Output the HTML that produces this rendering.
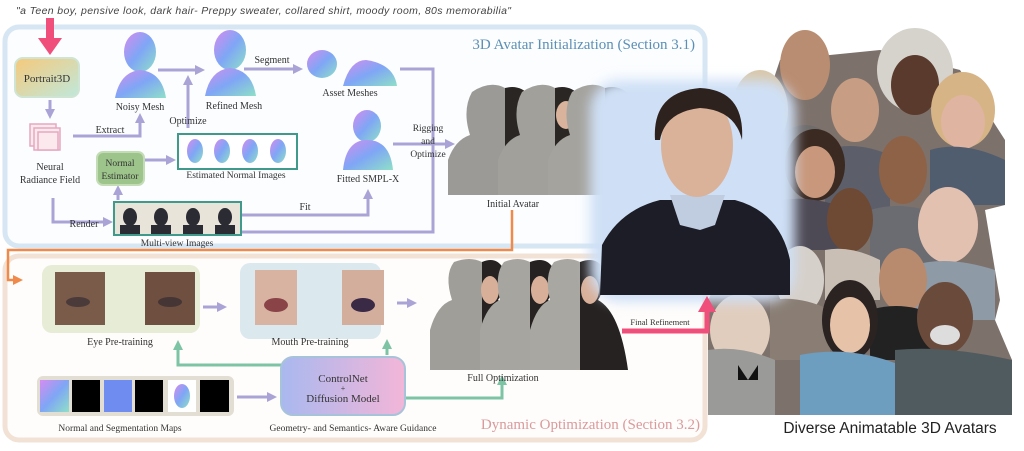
<!DOCTYPE html>
<html><head><meta charset="utf-8"><style>
html,body{margin:0;padding:0;background:#fff;}
body{width:1024px;height:446px;overflow:hidden;font-family:"Liberation Serif",serif;}
</style></head><body>
<svg width="1024" height="446" viewBox="0 0 1024 446" xmlns="http://www.w3.org/2000/svg" font-family="Liberation Serif, serif">
<defs>
<linearGradient id="p3" x1="0" y1="0" x2="1" y2="1"><stop offset="0" stop-color="#f6c97a"/><stop offset="1" stop-color="#bfe8dc"/></linearGradient>
<linearGradient id="cn" x1="0" y1="0" x2="1" y2="0"><stop offset="0" stop-color="#a9b8ef"/><stop offset="1" stop-color="#f3b6d8"/></linearGradient>
<linearGradient id="nm" x1="0" y1="0" x2="1" y2="1"><stop offset="0" stop-color="#d68cf0"/><stop offset=".5" stop-color="#7fa6f5"/><stop offset="1" stop-color="#8fe0c8"/></linearGradient>
<filter id="gl"><feGaussianBlur stdDeviation="6"/></filter>
<marker id="ap" markerUnits="userSpaceOnUse" markerWidth="10" markerHeight="10" refX="5" refY="5" orient="auto"><path d="M0,0 L10,5 L0,10 z" fill="#a9a3d6"/></marker>
<marker id="ag" markerUnits="userSpaceOnUse" markerWidth="10" markerHeight="10" refX="5" refY="5" orient="auto"><path d="M0,0 L10,5 L0,10 z" fill="#7cc4a4"/></marker>
<marker id="ao" markerUnits="userSpaceOnUse" markerWidth="10" markerHeight="10" refX="5" refY="5" orient="auto"><path d="M0,0 L10,5 L0,10 z" fill="#f08a4b"/></marker>
</defs>
<text x="16" y="14" font-size="10.5" font-style="italic" fill="#444" font-family="Liberation Sans, sans-serif" textLength="495">"a Teen boy, pensive look, dark hair- Preppy sweater, collared shirt, moody room, 80s memorabilia"</text>
<!-- boxes -->
<rect x="5" y="27" width="700" height="219" rx="14" fill="#fbfdff" stroke="#d6e6f2" stroke-width="5"/>
<rect x="5" y="256" width="700" height="184" rx="14" fill="#fffdfb" stroke="#f2e2d6" stroke-width="5"/>
<text x="695" y="49" font-size="15" fill="#5c8fb4" text-anchor="end">3D Avatar Initialization (Section 3.1)</text>
<text x="700" y="429" font-size="15" fill="#d99a9c" text-anchor="end">Dynamic Optimization (Section 3.2)</text>
<!-- pink arrow top -->
<rect x="46" y="18" width="8" height="22" fill="#ef4f7a"/><path d="M38,38 L62,38 L50,55 z" fill="#ef4f7a"/>
<rect x="15" y="58" width="64" height="39" rx="8" fill="url(#p3)" stroke="#cfe4d2" stroke-width="2"/>
<text x="47" y="82" font-size="11" text-anchor="middle" fill="#333">Portrait3D</text>
<g stroke="#a9a3d6" stroke-width="3" fill="none">
<path d="M50,100 V114" marker-end="url(#ap)"/>
<path d="M73,136 H140 V118" marker-end="url(#ap)"/>
<path d="M158,70 H200" marker-end="url(#ap)"/>
<path d="M188,128 V80" marker-end="url(#ap)"/>
<path d="M244,69 H298" marker-end="url(#ap)"/>
<path d="M400,69 H433 V232 H240"/>
<path d="M145,160 H171" marker-end="url(#ap)"/>
<path d="M118,200 V190" marker-end="url(#ap)"/>
<path d="M53,198 V222 H108" marker-end="url(#ap)"/>
<path d="M240,215 H368 V194" marker-end="url(#ap)"/>
<path d="M393,144 H450" marker-end="url(#ap)"/>
<path d="M85,310 H100" marker-end="url(#ap)"/>
<path d="M203,307 H222" marker-end="url(#ap)"/>
<path d="M297,303 H315" marker-end="url(#ap)"/>
<path d="M397,303 H412" marker-end="url(#ap)"/>
<path d="M237,397 H272" marker-end="url(#ap)"/>
</g>
<g stroke="#7cc4a4" stroke-width="3" fill="none">
<path d="M283,365 H178 V345" marker-end="url(#ag)"/>
<path d="M387,355 V344" marker-end="url(#ag)"/>
<path d="M405,398 H502 V380" marker-end="url(#ag)"/>
</g>
<path d="M512,210 V250 H8 V280 H18" stroke="#f08a4b" stroke-width="2.5" fill="none" marker-end="url(#ao)"/>
<!-- nerf icon -->
<g stroke="#e7a7c1" fill="#fbe9ee" stroke-width="1.5"><rect x="30" y="124" width="26" height="22"/><rect x="34" y="128" width="26" height="22"/><rect x="38" y="132" width="20" height="18"/></g>
<text x="50" y="170" font-size="10" text-anchor="middle" fill="#333">Neural</text>
<text x="50" y="183" font-size="10" text-anchor="middle" fill="#333">Radiance Field</text>
<text x="110" y="133" font-size="10" text-anchor="middle" fill="#333">Extract</text>
<text x="84" y="227" font-size="10" text-anchor="middle" fill="#333">Render</text>
<!-- meshes -->
<ellipse cx="140" cy="52" rx="16" ry="20" fill="url(#nm)"/><path d="M115,98 Q120,72 140,70 Q162,72 166,98 z" fill="url(#nm)"/>
<text x="140" y="110" font-size="10" text-anchor="middle" fill="#333">Noisy Mesh</text>
<ellipse cx="230" cy="50" rx="16" ry="20" fill="url(#nm)"/><path d="M205,96 Q210,70 230,68 Q252,70 256,96 z" fill="url(#nm)"/>
<text x="234" y="109" font-size="10" text-anchor="middle" fill="#333">Refined Mesh</text>
<text x="188" y="124" font-size="10" text-anchor="middle" fill="#333">Optimize</text>
<text x="272" y="63" font-size="10" text-anchor="middle" fill="#333">Segment</text>
<ellipse cx="322" cy="64" rx="15" ry="14" fill="url(#nm)"/><path d="M343,86 Q350,60 366,60 Q394,64 397,86 z" fill="url(#nm)"/>
<text x="350" y="96" font-size="10" text-anchor="middle" fill="#333">Asset Meshes</text>
<ellipse cx="367" cy="126" rx="14" ry="16" fill="url(#nm)"/><path d="M343,170 Q346,140 367,140 Q390,140 393,170 z" fill="url(#nm)"/>
<text x="368" y="182" font-size="10" text-anchor="middle" fill="#333">Fitted SMPL-X</text>
<text x="428" y="131" font-size="9.5" text-anchor="middle" fill="#333">Rigging</text>
<text x="428" y="144" font-size="9.5" text-anchor="middle" fill="#333">and</text>
<text x="428" y="157" font-size="9.5" text-anchor="middle" fill="#333">Optimize</text>
<!-- normal estimator -->
<rect x="97" y="152" width="47" height="33" rx="6" fill="#9dc48b" stroke="#c3dcb6" stroke-width="2"/>
<text x="120" y="166" font-size="9.5" text-anchor="middle" fill="#333">Normal</text>
<text x="120" y="179" font-size="9.5" text-anchor="middle" fill="#333">Estimator</text>
<rect x="178" y="134" width="119" height="35" fill="#fff" stroke="#3f9a8c" stroke-width="2"/>
<g fill="url(#nm)"><ellipse cx="195" cy="151" rx="8" ry="12"/><ellipse cx="222" cy="151" rx="8" ry="12"/><ellipse cx="250" cy="151" rx="8" ry="12"/><ellipse cx="278" cy="151" rx="8" ry="12"/></g>
<text x="236" y="178" font-size="9.5" text-anchor="middle" fill="#333">Estimated Normal Images</text>
<rect x="114" y="202" width="127" height="33" fill="#e8e4da" stroke="#3f9a8c" stroke-width="2"/>
<g fill="#2b2b33"><ellipse cx="130" cy="217" rx="7" ry="9"/><ellipse cx="161" cy="217" rx="7" ry="9"/><ellipse cx="193" cy="217" rx="7" ry="9"/><ellipse cx="225" cy="217" rx="7" ry="9"/><rect x="120" y="225" width="20" height="9"/><rect x="151" y="225" width="20" height="9"/><rect x="183" y="225" width="20" height="9"/><rect x="215" y="225" width="20" height="9"/></g>
<text x="177" y="246" font-size="9.5" text-anchor="middle" fill="#333">Multi-view Images</text>
<text x="305" y="210" font-size="10" text-anchor="middle" fill="#333">Fit</text>
<!-- initial avatar -->
<g>
<path d="M448,195 L448,160 Q455,140 470,135 Q462,110 472,92 Q490,80 505,88 L505,195 z" fill="#9c9a96"/>
<path d="M505,88 Q520,84 530,96 Q532,120 525,135 Q545,145 548,195 L505,195 z" fill="#2a2624"/>
<path d="M498,195 L498,160 Q505,140 520,135 Q512,110 522,92 Q540,80 555,88 L555,195 z" fill="#a2a09b"/>
<path d="M555,88 Q570,84 580,96 Q582,120 575,135 Q595,145 598,195 L555,195 z" fill="#2a2624"/>
<ellipse cx="566" cy="115" rx="10" ry="14" fill="#d9b39b"/>
<path d="M548,195 L548,160 Q555,140 570,135 Q562,110 572,92 Q590,80 605,88 L605,195 z" fill="#a5a39e"/>
<path d="M605,88 Q620,84 630,96 Q632,120 625,135 Q650,145 655,195 L605,195 z" fill="#2a2624"/>
</g>
<text x="513" y="207" font-size="10" text-anchor="middle" fill="#333">Initial Avatar</text>
<!-- eye/mouth -->
<rect x="42" y="265" width="158" height="68" rx="10" fill="#e6ecd6"/>
<rect x="55" y="272" width="50" height="53" fill="#7a5b4a"/><rect x="145" y="272" width="50" height="53" fill="#6e4f40"/>
<ellipse cx="78" cy="302" rx="12" ry="5" fill="#4a3a3a"/><ellipse cx="170" cy="302" rx="12" ry="5" fill="#453535"/>
<text x="120" y="345" font-size="10" text-anchor="middle" fill="#333">Eye Pre-training</text>
<rect x="240" y="263" width="141" height="76" rx="10" fill="#dbe8ee"/>
<rect x="255" y="270" width="42" height="55" fill="#d8b3a2"/><rect x="342" y="270" width="42" height="55" fill="#d4ae9d"/>
<ellipse cx="276" cy="305" rx="12" ry="7" fill="#8a4448"/><ellipse cx="363" cy="305" rx="12" ry="7" fill="#3b2a45"/>
<text x="310" y="345" font-size="10" text-anchor="middle" fill="#333">Mouth Pre-training</text>
<!-- full optimization -->
<g>
<path d="M430,370 L430,330 Q437,305 452,300 Q444,275 454,262 Q470,256 482,262 L482,370 z" fill="#a09e99"/>
<path d="M482,262 Q496,256 503,268 Q505,290 498,300 Q515,312 520,370 L482,370 z" fill="#262222"/>
<ellipse cx="490" cy="290" rx="9" ry="14" fill="#d8b099"/>
<path d="M480,370 L480,330 Q487,305 500,300 Q494,275 504,262 Q518,256 530,262 L530,370 z" fill="#a7a59f"/>
<path d="M530,262 Q546,256 553,268 Q555,290 548,300 Q565,312 570,370 L530,370 z" fill="#262222"/>
<ellipse cx="540" cy="290" rx="9" ry="14" fill="#d8b099"/>
<path d="M530,370 L530,330 Q537,305 550,300 Q544,275 554,262 Q568,256 580,262 L580,370 z" fill="#a9a7a2"/>
<path d="M580,262 Q596,256 603,268 Q605,290 598,300 Q620,312 628,370 L580,370 z" fill="#262222"/>
<ellipse cx="590" cy="290" rx="9" ry="14" fill="#d8b099"/>
</g>
<text x="503" y="381" font-size="10" text-anchor="middle" fill="#333">Full Optimization</text>
<!-- normal maps -->
<rect x="37" y="376" width="197" height="40" rx="6" fill="#e3ded4"/>
<rect x="40" y="380" width="29" height="32" fill="url(#nm)"/><rect x="72" y="380" width="28" height="32" fill="#000"/><rect x="104" y="380" width="28" height="32" fill="#6f8df0"/><rect x="135" y="380" width="28" height="32" fill="#000"/><rect x="168" y="380" width="28" height="32" fill="#fff"/><ellipse cx="182" cy="396" rx="8" ry="12" fill="url(#nm)"/><rect x="200" y="380" width="29" height="32" fill="#000"/>
<text x="120" y="431" font-size="9.5" text-anchor="middle" fill="#333">Normal and Segmentation Maps</text>
<rect x="281" y="357" width="124" height="58" rx="12" fill="url(#cn)" stroke="#a7c3d9" stroke-width="2"/>
<text x="343" y="382" font-size="11" text-anchor="middle" fill="#333">ControlNet</text>
<text x="343" y="391" font-size="8" text-anchor="middle" fill="#333">+</text>
<text x="343" y="402" font-size="11" text-anchor="middle" fill="#333">Diffusion Model</text>
<text x="353" y="431" font-size="9.5" text-anchor="middle" fill="#333">Geometry- and Semantics- Aware Guidance</text>
<!-- collage -->
<g>
<path d="M730,150 L760,120 L780,60 L880,50 L960,70 L1005,140 L1005,205 L985,210 L1000,300 L995,320 L1012,360 L1012,415 L708,415 L708,300 L740,240 z" fill="#7d716b"/>
<ellipse cx="760" cy="110" rx="28" ry="40" fill="#d9c7a8"/>
<ellipse cx="805" cy="65" rx="25" ry="35" fill="#b98d71"/><path d="M775,140 Q805,110 835,140 V200 H775 z" fill="#6f6c6c"/>
<ellipse cx="915" cy="70" rx="38" ry="42" fill="#d6d2cc"/><ellipse cx="915" cy="85" rx="24" ry="30" fill="#5a3a2c"/>
<ellipse cx="963" cy="110" rx="32" ry="38" fill="#d6b486"/><ellipse cx="963" cy="122" rx="22" ry="27" fill="#dfb4a0"/><path d="M930,150 Q963,140 1005,160 V205 H930 z" fill="#4f5d6e"/>
<ellipse cx="855" cy="110" rx="24" ry="32" fill="#c79e83"/><path d="M825,150 Q855,140 890,155 V230 H825 z" fill="#5c5f6a"/>
<ellipse cx="815" cy="165" rx="30" ry="36" fill="#3b2a22"/><ellipse cx="815" cy="172" rx="20" ry="26" fill="#c9987c"/><path d="M780,200 Q815,195 850,210 V250 H780 z" fill="#4e4a55"/>
<ellipse cx="903" cy="170" rx="24" ry="34" fill="#8e6247"/><path d="M870,210 Q903,200 940,215 V270 H870 z" fill="#6a6c72"/>
<ellipse cx="765" cy="215" rx="18" ry="22" fill="#ad7c62"/>
<ellipse cx="850" cy="220" rx="23" ry="32" fill="#6e4a35"/><path d="M825,250 Q850,245 880,260 V300 H825 z" fill="#c9bfb4"/>
<ellipse cx="948" cy="225" rx="30" ry="38" fill="#e3c1b0"/><path d="M915,265 Q948,255 995,270 V320 H915 z" fill="#8e9aa6"/>
<ellipse cx="800" cy="280" rx="24" ry="34" fill="#d6d0ca"/><path d="M770,300 Q800,295 830,310 V360 H770 z" fill="#8a7e74"/>
<ellipse cx="903" cy="280" rx="24" ry="32" fill="#b88a6e"/><path d="M870,310 Q903,300 935,315 V360 H870 z" fill="#222"/>
<ellipse cx="740" cy="330" rx="30" ry="36" fill="#e1cdbd"/><path d="M708,350 Q740,345 775,360 V415 H708 z" fill="#9a9a98"/>
<path d="M738,365 L748,380 L758,365 L758,380 L738,380 z" fill="#111"/>
<ellipse cx="850" cy="320" rx="28" ry="40" fill="#2a2322"/><ellipse cx="850" cy="325" rx="20" ry="28" fill="#e6c2a8"/><path d="M800,355 Q850,345 900,365 V415 H800 z" fill="#6d9dbf"/>
<ellipse cx="945" cy="318" rx="28" ry="36" fill="#6a4a3a"/><ellipse cx="945" cy="335" rx="15" ry="10" fill="#ddd"/><path d="M895,350 Q945,345 1012,360 V415 H895 z" fill="#4f5b5e"/>
</g>
<text x="890" y="433" font-size="15.5" text-anchor="middle" fill="#222" font-family="Liberation Sans, sans-serif">Diverse Animatable 3D Avatars</text>
<!-- big boy -->
<rect x="590" y="80" width="205" height="222" rx="30" fill="#cfe0f6" filter="url(#gl)"/>
<path d="M600,295 L602,245 Q620,210 660,200 L735,200 Q780,212 790,260 L790,295 z" fill="#1c1d26"/>
<path d="M670,195 L725,195 L715,225 L700,230 L680,225 z" fill="#c0cde0"/>
<ellipse cx="697" cy="145" rx="36" ry="52" fill="#d9b299"/>
<path d="M655,140 Q652,92 700,88 Q745,90 742,140 Q735,110 700,108 Q665,112 660,140 z" fill="#2d221e"/>
<!-- final refinement -->
<path d="M622,331 H707 V310" stroke="#ef4f7a" stroke-width="5" fill="none"/>
<path d="M698,312 L716,312 L707,296 z" fill="#ef4f7a"/>
<text x="660" y="325" font-size="8.5" text-anchor="middle" fill="#333">Final Refinement</text>
</svg>
</body></html>
